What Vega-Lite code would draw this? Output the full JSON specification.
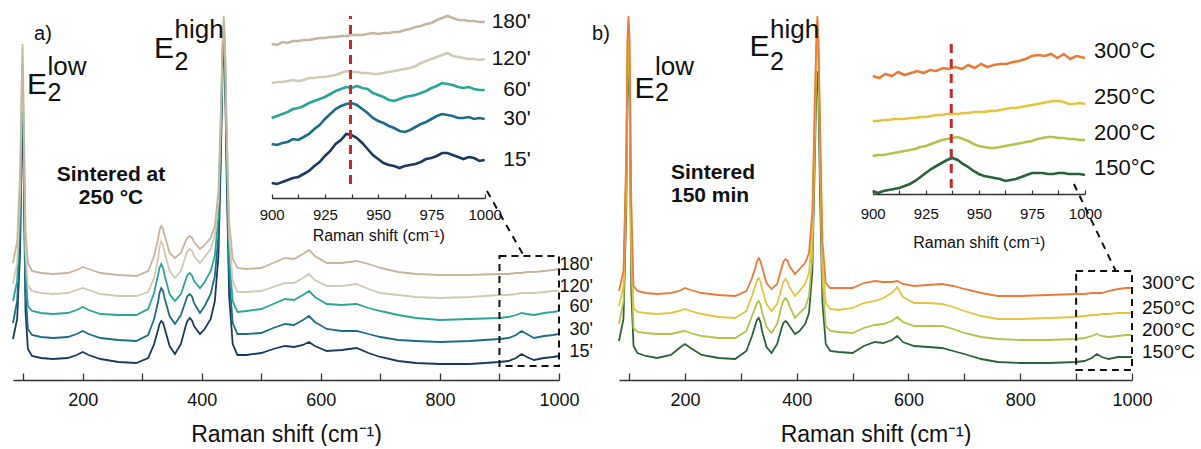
{
"$schema": "https://vega.github.io/schema/vega-lite/v6.json",
"padding": {"left": 9, "top": 10, "right": 0, "bottom": 0},
"bounds": "flush",
"spacing": 60,
"config": {"view": {"stroke": null}, "font": "Liberation Sans", "axis": {"grid": false, "labelFont": "Liberation Sans", "titleFont": "Liberation Sans"}},
"resolve": {"scale": {"color": "independent"}},
"datasets": {
"a": [
{"s":"15'","x":83,"y":41},{"s":"15'","x":90,"y":61},{"s":"15'","x":95,"y":129},{"s":"15'","x":97,"y":209},{"s":"15'","x":99,"y":289},{"s":"15'","x":101,"y":204},{"s":"15'","x":104,"y":69},{"s":"15'","x":108,"y":31},{"s":"15'","x":115,"y":24},{"s":"15'","x":130,"y":22},{"s":"15'","x":150,"y":21},{"s":"15'","x":175,"y":22},{"s":"15'","x":190,"y":25},{"s":"15'","x":200,"y":28},{"s":"15'","x":210,"y":25},{"s":"15'","x":230,"y":21},{"s":"15'","x":260,"y":18},{"s":"15'","x":290,"y":17},{"s":"15'","x":310,"y":22},{"s":"15'","x":320,"y":36},{"s":"15'","x":327,"y":51},{"s":"15'","x":332,"y":59},{"s":"15'","x":338,"y":51},{"s":"15'","x":346,"y":34},{"s":"15'","x":355,"y":26},{"s":"15'","x":365,"y":36},{"s":"15'","x":373,"y":54},{"s":"15'","x":380,"y":62},{"s":"15'","x":387,"y":54},{"s":"15'","x":397,"y":46},{"s":"15'","x":405,"y":51},{"s":"15'","x":415,"y":61},{"s":"15'","x":422,"y":79},{"s":"15'","x":428,"y":124},{"s":"15'","x":432,"y":219},{"s":"15'","x":435,"y":309},{"s":"15'","x":437,"y":344},{"s":"15'","x":439,"y":309},{"s":"15'","x":442,"y":199},{"s":"15'","x":446,"y":84},{"s":"15'","x":452,"y":36},{"s":"15'","x":460,"y":25},{"s":"15'","x":475,"y":25},{"s":"15'","x":500,"y":27},{"s":"15'","x":520,"y":31},{"s":"15'","x":540,"y":34},{"s":"15'","x":555,"y":33},{"s":"15'","x":570,"y":35},{"s":"15'","x":580,"y":38},{"s":"15'","x":590,"y":34},{"s":"15'","x":610,"y":29},{"s":"15'","x":635,"y":30},{"s":"15'","x":660,"y":32},{"s":"15'","x":680,"y":27},{"s":"15'","x":700,"y":23},{"s":"15'","x":730,"y":19},{"s":"15'","x":760,"y":17},{"s":"15'","x":800,"y":16},{"s":"15'","x":850,"y":16},{"s":"15'","x":900,"y":18},{"s":"15'","x":915,"y":19},{"s":"15'","x":928,"y":22},{"s":"15'","x":937,"y":26},{"s":"15'","x":946,"y":23},{"s":"15'","x":958,"y":20},{"s":"15'","x":975,"y":22},{"s":"15'","x":990,"y":23},{"s":"15'","x":1000,"y":24},{"s":"15'","x":329,"y":56},{"s":"15'","x":335,"y":57},{"s":"15'","x":376,"y":59},{"s":"15'","x":384,"y":59},
{"s":"30'","x":83,"y":57},{"s":"30'","x":90,"y":79},{"s":"30'","x":95,"y":149},{"s":"30'","x":97,"y":229},{"s":"30'","x":99,"y":304},{"s":"30'","x":101,"y":219},{"s":"30'","x":104,"y":89},{"s":"30'","x":108,"y":51},{"s":"30'","x":115,"y":45},{"s":"30'","x":130,"y":43},{"s":"30'","x":150,"y":42},{"s":"30'","x":175,"y":43},{"s":"30'","x":190,"y":46},{"s":"30'","x":200,"y":49},{"s":"30'","x":210,"y":46},{"s":"30'","x":230,"y":42},{"s":"30'","x":260,"y":40},{"s":"30'","x":290,"y":39},{"s":"30'","x":310,"y":45},{"s":"30'","x":320,"y":61},{"s":"30'","x":327,"y":79},{"s":"30'","x":332,"y":92},{"s":"30'","x":338,"y":81},{"s":"30'","x":346,"y":64},{"s":"30'","x":355,"y":56},{"s":"30'","x":365,"y":65},{"s":"30'","x":373,"y":79},{"s":"30'","x":380,"y":86},{"s":"30'","x":387,"y":77},{"s":"30'","x":397,"y":67},{"s":"30'","x":405,"y":74},{"s":"30'","x":415,"y":86},{"s":"30'","x":422,"y":104},{"s":"30'","x":428,"y":144},{"s":"30'","x":432,"y":234},{"s":"30'","x":435,"y":319},{"s":"30'","x":437,"y":349},{"s":"30'","x":439,"y":319},{"s":"30'","x":442,"y":214},{"s":"30'","x":446,"y":104},{"s":"30'","x":452,"y":57},{"s":"30'","x":460,"y":46},{"s":"30'","x":475,"y":46},{"s":"30'","x":500,"y":47},{"s":"30'","x":520,"y":52},{"s":"30'","x":540,"y":56},{"s":"30'","x":555,"y":55},{"s":"30'","x":570,"y":60},{"s":"30'","x":580,"y":64},{"s":"30'","x":590,"y":58},{"s":"30'","x":610,"y":51},{"s":"30'","x":635,"y":49},{"s":"30'","x":660,"y":49},{"s":"30'","x":680,"y":46},{"s":"30'","x":700,"y":43},{"s":"30'","x":730,"y":40},{"s":"30'","x":760,"y":39},{"s":"30'","x":800,"y":38},{"s":"30'","x":850,"y":39},{"s":"30'","x":900,"y":41},{"s":"30'","x":915,"y":42},{"s":"30'","x":928,"y":45},{"s":"30'","x":937,"y":49},{"s":"30'","x":946,"y":46},{"s":"30'","x":958,"y":42},{"s":"30'","x":975,"y":44},{"s":"30'","x":990,"y":45},{"s":"30'","x":1000,"y":46},{"s":"30'","x":329,"y":87},{"s":"30'","x":335,"y":89},{"s":"30'","x":376,"y":84},{"s":"30'","x":384,"y":83},
{"s":"60'","x":83,"y":79},{"s":"60'","x":90,"y":99},{"s":"60'","x":95,"y":169},{"s":"60'","x":97,"y":249},{"s":"60'","x":99,"y":314},{"s":"60'","x":101,"y":239},{"s":"60'","x":104,"y":109},{"s":"60'","x":108,"y":74},{"s":"60'","x":115,"y":69},{"s":"60'","x":130,"y":67},{"s":"60'","x":150,"y":66},{"s":"60'","x":175,"y":67},{"s":"60'","x":190,"y":70},{"s":"60'","x":200,"y":73},{"s":"60'","x":210,"y":70},{"s":"60'","x":230,"y":66},{"s":"60'","x":260,"y":65},{"s":"60'","x":290,"y":65},{"s":"60'","x":310,"y":71},{"s":"60'","x":320,"y":87},{"s":"60'","x":327,"y":106},{"s":"60'","x":332,"y":116},{"s":"60'","x":338,"y":104},{"s":"60'","x":346,"y":86},{"s":"60'","x":355,"y":79},{"s":"60'","x":365,"y":86},{"s":"60'","x":373,"y":100},{"s":"60'","x":380,"y":107},{"s":"60'","x":387,"y":99},{"s":"60'","x":397,"y":92},{"s":"60'","x":405,"y":98},{"s":"60'","x":415,"y":109},{"s":"60'","x":422,"y":124},{"s":"60'","x":428,"y":164},{"s":"60'","x":432,"y":249},{"s":"60'","x":435,"y":329},{"s":"60'","x":437,"y":354},{"s":"60'","x":439,"y":329},{"s":"60'","x":442,"y":229},{"s":"60'","x":446,"y":124},{"s":"60'","x":452,"y":79},{"s":"60'","x":460,"y":68},{"s":"60'","x":475,"y":69},{"s":"60'","x":500,"y":71},{"s":"60'","x":520,"y":76},{"s":"60'","x":540,"y":81},{"s":"60'","x":555,"y":80},{"s":"60'","x":570,"y":85},{"s":"60'","x":580,"y":89},{"s":"60'","x":590,"y":83},{"s":"60'","x":610,"y":76},{"s":"60'","x":635,"y":75},{"s":"60'","x":660,"y":76},{"s":"60'","x":680,"y":72},{"s":"60'","x":700,"y":69},{"s":"60'","x":730,"y":65},{"s":"60'","x":760,"y":62},{"s":"60'","x":800,"y":60},{"s":"60'","x":850,"y":61},{"s":"60'","x":900,"y":62},{"s":"60'","x":915,"y":63},{"s":"60'","x":928,"y":65},{"s":"60'","x":937,"y":67},{"s":"60'","x":946,"y":66},{"s":"60'","x":958,"y":65},{"s":"60'","x":975,"y":67},{"s":"60'","x":990,"y":68},{"s":"60'","x":1000,"y":69},{"s":"60'","x":329,"y":112},{"s":"60'","x":335,"y":112},{"s":"60'","x":376,"y":105},{"s":"60'","x":384,"y":104},
{"s":"120'","x":83,"y":96},{"s":"120'","x":90,"y":117},{"s":"120'","x":95,"y":189},{"s":"120'","x":97,"y":264},{"s":"120'","x":99,"y":324},{"s":"120'","x":101,"y":254},{"s":"120'","x":104,"y":129},{"s":"120'","x":108,"y":95},{"s":"120'","x":115,"y":89},{"s":"120'","x":130,"y":87},{"s":"120'","x":150,"y":86},{"s":"120'","x":175,"y":87},{"s":"120'","x":190,"y":90},{"s":"120'","x":200,"y":92},{"s":"120'","x":210,"y":90},{"s":"120'","x":230,"y":86},{"s":"120'","x":260,"y":84},{"s":"120'","x":290,"y":84},{"s":"120'","x":310,"y":88},{"s":"120'","x":320,"y":102},{"s":"120'","x":327,"y":122},{"s":"120'","x":332,"y":139},{"s":"120'","x":338,"y":127},{"s":"120'","x":346,"y":109},{"s":"120'","x":355,"y":102},{"s":"120'","x":365,"y":109},{"s":"120'","x":373,"y":124},{"s":"120'","x":380,"y":131},{"s":"120'","x":387,"y":124},{"s":"120'","x":397,"y":117},{"s":"120'","x":405,"y":123},{"s":"120'","x":415,"y":131},{"s":"120'","x":422,"y":144},{"s":"120'","x":428,"y":179},{"s":"120'","x":432,"y":259},{"s":"120'","x":435,"y":334},{"s":"120'","x":437,"y":359},{"s":"120'","x":439,"y":334},{"s":"120'","x":442,"y":239},{"s":"120'","x":446,"y":144},{"s":"120'","x":452,"y":99},{"s":"120'","x":460,"y":88},{"s":"120'","x":475,"y":88},{"s":"120'","x":500,"y":89},{"s":"120'","x":520,"y":93},{"s":"120'","x":540,"y":97},{"s":"120'","x":555,"y":97},{"s":"120'","x":570,"y":102},{"s":"120'","x":580,"y":106},{"s":"120'","x":590,"y":100},{"s":"120'","x":610,"y":94},{"s":"120'","x":635,"y":94},{"s":"120'","x":660,"y":96},{"s":"120'","x":680,"y":91},{"s":"120'","x":700,"y":87},{"s":"120'","x":730,"y":85},{"s":"120'","x":760,"y":83},{"s":"120'","x":800,"y":82},{"s":"120'","x":850,"y":83},{"s":"120'","x":900,"y":85},{"s":"120'","x":915,"y":85},{"s":"120'","x":928,"y":86},{"s":"120'","x":937,"y":87},{"s":"120'","x":946,"y":87},{"s":"120'","x":958,"y":87},{"s":"120'","x":975,"y":88},{"s":"120'","x":990,"y":89},{"s":"120'","x":1000,"y":89},{"s":"120'","x":329,"y":133},{"s":"120'","x":335,"y":135},{"s":"120'","x":376,"y":129},{"s":"120'","x":384,"y":129},
{"s":"180'","x":83,"y":117},{"s":"180'","x":90,"y":139},{"s":"180'","x":95,"y":209},{"s":"180'","x":97,"y":279},{"s":"180'","x":99,"y":336},{"s":"180'","x":101,"y":269},{"s":"180'","x":104,"y":149},{"s":"180'","x":108,"y":117},{"s":"180'","x":115,"y":109},{"s":"180'","x":130,"y":107},{"s":"180'","x":150,"y":106},{"s":"180'","x":175,"y":107},{"s":"180'","x":190,"y":110},{"s":"180'","x":200,"y":113},{"s":"180'","x":210,"y":111},{"s":"180'","x":230,"y":107},{"s":"180'","x":260,"y":105},{"s":"180'","x":290,"y":104},{"s":"180'","x":310,"y":109},{"s":"180'","x":320,"y":124},{"s":"180'","x":327,"y":142},{"s":"180'","x":332,"y":154},{"s":"180'","x":338,"y":144},{"s":"180'","x":346,"y":127},{"s":"180'","x":355,"y":122},{"s":"180'","x":365,"y":127},{"s":"180'","x":373,"y":139},{"s":"180'","x":380,"y":144},{"s":"180'","x":387,"y":138},{"s":"180'","x":397,"y":131},{"s":"180'","x":405,"y":135},{"s":"180'","x":415,"y":142},{"s":"180'","x":422,"y":154},{"s":"180'","x":428,"y":189},{"s":"180'","x":432,"y":269},{"s":"180'","x":435,"y":339},{"s":"180'","x":437,"y":364},{"s":"180'","x":439,"y":339},{"s":"180'","x":442,"y":249},{"s":"180'","x":446,"y":159},{"s":"180'","x":452,"y":121},{"s":"180'","x":460,"y":112},{"s":"180'","x":475,"y":111},{"s":"180'","x":500,"y":112},{"s":"180'","x":520,"y":117},{"s":"180'","x":540,"y":122},{"s":"180'","x":555,"y":121},{"s":"180'","x":570,"y":126},{"s":"180'","x":580,"y":130},{"s":"180'","x":590,"y":124},{"s":"180'","x":610,"y":117},{"s":"180'","x":635,"y":117},{"s":"180'","x":660,"y":119},{"s":"180'","x":680,"y":116},{"s":"180'","x":700,"y":112},{"s":"180'","x":730,"y":108},{"s":"180'","x":760,"y":106},{"s":"180'","x":800,"y":105},{"s":"180'","x":850,"y":105},{"s":"180'","x":900,"y":106},{"s":"180'","x":915,"y":106},{"s":"180'","x":928,"y":107},{"s":"180'","x":937,"y":107},{"s":"180'","x":946,"y":108},{"s":"180'","x":958,"y":108},{"s":"180'","x":975,"y":109},{"s":"180'","x":990,"y":110},{"s":"180'","x":1000,"y":111},{"s":"180'","x":329,"y":150},{"s":"180'","x":335,"y":151},{"s":"180'","x":376,"y":142},{"s":"180'","x":384,"y":142}
],
"b": [
{"s":"150°C","x":82,"y":39},{"s":"150°C","x":90,"y":61},{"s":"150°C","x":95,"y":169},{"s":"150°C","x":97,"y":279},{"s":"150°C","x":99,"y":349},{"s":"150°C","x":101,"y":279},{"s":"150°C","x":104,"y":89},{"s":"150°C","x":108,"y":34},{"s":"150°C","x":115,"y":27},{"s":"150°C","x":130,"y":24},{"s":"150°C","x":150,"y":22},{"s":"150°C","x":175,"y":25},{"s":"150°C","x":190,"y":32},{"s":"150°C","x":200,"y":36},{"s":"150°C","x":210,"y":32},{"s":"150°C","x":230,"y":25},{"s":"150°C","x":260,"y":22},{"s":"150°C","x":290,"y":21},{"s":"150°C","x":310,"y":29},{"s":"150°C","x":320,"y":44},{"s":"150°C","x":327,"y":57},{"s":"150°C","x":332,"y":62},{"s":"150°C","x":338,"y":49},{"s":"150°C","x":346,"y":33},{"s":"150°C","x":355,"y":27},{"s":"150°C","x":365,"y":36},{"s":"150°C","x":373,"y":52},{"s":"150°C","x":380,"y":59},{"s":"150°C","x":387,"y":54},{"s":"150°C","x":397,"y":46},{"s":"150°C","x":405,"y":49},{"s":"150°C","x":415,"y":56},{"s":"150°C","x":422,"y":67},{"s":"150°C","x":428,"y":109},{"s":"150°C","x":432,"y":209},{"s":"150°C","x":435,"y":289},{"s":"150°C","x":437,"y":309},{"s":"150°C","x":439,"y":279},{"s":"150°C","x":442,"y":179},{"s":"150°C","x":446,"y":79},{"s":"150°C","x":452,"y":36},{"s":"150°C","x":460,"y":29},{"s":"150°C","x":475,"y":28},{"s":"150°C","x":500,"y":27},{"s":"150°C","x":520,"y":34},{"s":"150°C","x":540,"y":38},{"s":"150°C","x":555,"y":37},{"s":"150°C","x":570,"y":40},{"s":"150°C","x":580,"y":44},{"s":"150°C","x":590,"y":38},{"s":"150°C","x":610,"y":34},{"s":"150°C","x":635,"y":33},{"s":"150°C","x":660,"y":32},{"s":"150°C","x":680,"y":29},{"s":"150°C","x":700,"y":26},{"s":"150°C","x":730,"y":21},{"s":"150°C","x":760,"y":18},{"s":"150°C","x":800,"y":17},{"s":"150°C","x":850,"y":17},{"s":"150°C","x":900,"y":18},{"s":"150°C","x":915,"y":19},{"s":"150°C","x":928,"y":22},{"s":"150°C","x":937,"y":26},{"s":"150°C","x":946,"y":23},{"s":"150°C","x":958,"y":21},{"s":"150°C","x":975,"y":23},{"s":"150°C","x":990,"y":23},{"s":"150°C","x":1000,"y":23},{"s":"150°C","x":329,"y":60},{"s":"150°C","x":335,"y":58},{"s":"150°C","x":376,"y":57},{"s":"150°C","x":384,"y":57},
{"s":"200°C","x":82,"y":56},{"s":"200°C","x":90,"y":79},{"s":"200°C","x":95,"y":189},{"s":"200°C","x":97,"y":299},{"s":"200°C","x":99,"y":354},{"s":"200°C","x":101,"y":299},{"s":"200°C","x":104,"y":119},{"s":"200°C","x":108,"y":52},{"s":"200°C","x":115,"y":48},{"s":"200°C","x":130,"y":47},{"s":"200°C","x":150,"y":46},{"s":"200°C","x":175,"y":46},{"s":"200°C","x":190,"y":48},{"s":"200°C","x":200,"y":49},{"s":"200°C","x":210,"y":47},{"s":"200°C","x":230,"y":44},{"s":"200°C","x":260,"y":42},{"s":"200°C","x":290,"y":42},{"s":"200°C","x":310,"y":49},{"s":"200°C","x":320,"y":64},{"s":"200°C","x":327,"y":74},{"s":"200°C","x":332,"y":79},{"s":"200°C","x":338,"y":68},{"s":"200°C","x":346,"y":53},{"s":"200°C","x":355,"y":47},{"s":"200°C","x":365,"y":56},{"s":"200°C","x":373,"y":74},{"s":"200°C","x":380,"y":82},{"s":"200°C","x":387,"y":74},{"s":"200°C","x":397,"y":62},{"s":"200°C","x":405,"y":67},{"s":"200°C","x":415,"y":72},{"s":"200°C","x":422,"y":84},{"s":"200°C","x":428,"y":124},{"s":"200°C","x":432,"y":229},{"s":"200°C","x":435,"y":319},{"s":"200°C","x":437,"y":354},{"s":"200°C","x":439,"y":319},{"s":"200°C","x":442,"y":209},{"s":"200°C","x":446,"y":99},{"s":"200°C","x":452,"y":54},{"s":"200°C","x":460,"y":49},{"s":"200°C","x":475,"y":48},{"s":"200°C","x":500,"y":47},{"s":"200°C","x":520,"y":52},{"s":"200°C","x":540,"y":55},{"s":"200°C","x":555,"y":56},{"s":"200°C","x":570,"y":59},{"s":"200°C","x":580,"y":63},{"s":"200°C","x":590,"y":58},{"s":"200°C","x":610,"y":54},{"s":"200°C","x":635,"y":54},{"s":"200°C","x":660,"y":54},{"s":"200°C","x":680,"y":51},{"s":"200°C","x":700,"y":47},{"s":"200°C","x":730,"y":43},{"s":"200°C","x":760,"y":41},{"s":"200°C","x":800,"y":40},{"s":"200°C","x":850,"y":40},{"s":"200°C","x":900,"y":41},{"s":"200°C","x":915,"y":42},{"s":"200°C","x":928,"y":44},{"s":"200°C","x":937,"y":46},{"s":"200°C","x":946,"y":44},{"s":"200°C","x":958,"y":43},{"s":"200°C","x":975,"y":44},{"s":"200°C","x":990,"y":45},{"s":"200°C","x":1000,"y":45},{"s":"200°C","x":329,"y":77},{"s":"200°C","x":335,"y":76},{"s":"200°C","x":376,"y":79},{"s":"200°C","x":384,"y":79},
{"s":"250°C","x":82,"y":74},{"s":"250°C","x":90,"y":94},{"s":"250°C","x":95,"y":209},{"s":"250°C","x":97,"y":319},{"s":"250°C","x":99,"y":359},{"s":"250°C","x":101,"y":319},{"s":"250°C","x":104,"y":149},{"s":"250°C","x":108,"y":72},{"s":"250°C","x":115,"y":68},{"s":"250°C","x":130,"y":67},{"s":"250°C","x":150,"y":66},{"s":"250°C","x":175,"y":67},{"s":"250°C","x":190,"y":69},{"s":"250°C","x":200,"y":71},{"s":"250°C","x":210,"y":69},{"s":"250°C","x":230,"y":66},{"s":"250°C","x":260,"y":63},{"s":"250°C","x":290,"y":62},{"s":"250°C","x":310,"y":69},{"s":"250°C","x":320,"y":84},{"s":"250°C","x":327,"y":96},{"s":"250°C","x":332,"y":102},{"s":"250°C","x":338,"y":91},{"s":"250°C","x":346,"y":76},{"s":"250°C","x":355,"y":69},{"s":"250°C","x":365,"y":76},{"s":"250°C","x":373,"y":92},{"s":"250°C","x":380,"y":101},{"s":"250°C","x":387,"y":93},{"s":"250°C","x":397,"y":84},{"s":"250°C","x":405,"y":89},{"s":"250°C","x":415,"y":96},{"s":"250°C","x":422,"y":107},{"s":"250°C","x":428,"y":149},{"s":"250°C","x":432,"y":249},{"s":"250°C","x":435,"y":329},{"s":"250°C","x":437,"y":359},{"s":"250°C","x":439,"y":329},{"s":"250°C","x":442,"y":229},{"s":"250°C","x":446,"y":119},{"s":"250°C","x":452,"y":77},{"s":"250°C","x":460,"y":71},{"s":"250°C","x":475,"y":70},{"s":"250°C","x":500,"y":72},{"s":"250°C","x":520,"y":77},{"s":"250°C","x":540,"y":79},{"s":"250°C","x":555,"y":82},{"s":"250°C","x":570,"y":87},{"s":"250°C","x":580,"y":93},{"s":"250°C","x":590,"y":83},{"s":"250°C","x":610,"y":77},{"s":"250°C","x":635,"y":77},{"s":"250°C","x":660,"y":76},{"s":"250°C","x":680,"y":73},{"s":"250°C","x":700,"y":69},{"s":"250°C","x":730,"y":64},{"s":"250°C","x":760,"y":61},{"s":"250°C","x":800,"y":61},{"s":"250°C","x":850,"y":62},{"s":"250°C","x":900,"y":63},{"s":"250°C","x":915,"y":64},{"s":"250°C","x":928,"y":65},{"s":"250°C","x":937,"y":65},{"s":"250°C","x":946,"y":66},{"s":"250°C","x":958,"y":66},{"s":"250°C","x":975,"y":67},{"s":"250°C","x":990,"y":67},{"s":"250°C","x":1000,"y":67},{"s":"250°C","x":329,"y":100},{"s":"250°C","x":335,"y":99},{"s":"250°C","x":376,"y":98},{"s":"250°C","x":384,"y":98},
{"s":"300°C","x":82,"y":89},{"s":"300°C","x":90,"y":109},{"s":"300°C","x":95,"y":229},{"s":"300°C","x":97,"y":339},{"s":"300°C","x":99,"y":364},{"s":"300°C","x":101,"y":339},{"s":"300°C","x":104,"y":179},{"s":"300°C","x":108,"y":94},{"s":"300°C","x":115,"y":89},{"s":"300°C","x":130,"y":87},{"s":"300°C","x":150,"y":86},{"s":"300°C","x":175,"y":87},{"s":"300°C","x":190,"y":89},{"s":"300°C","x":200,"y":92},{"s":"300°C","x":210,"y":90},{"s":"300°C","x":230,"y":87},{"s":"300°C","x":260,"y":85},{"s":"300°C","x":290,"y":84},{"s":"300°C","x":310,"y":89},{"s":"300°C","x":320,"y":102},{"s":"300°C","x":327,"y":114},{"s":"300°C","x":332,"y":122},{"s":"300°C","x":338,"y":113},{"s":"300°C","x":346,"y":97},{"s":"300°C","x":355,"y":91},{"s":"300°C","x":365,"y":96},{"s":"300°C","x":373,"y":112},{"s":"300°C","x":380,"y":121},{"s":"300°C","x":387,"y":114},{"s":"300°C","x":397,"y":106},{"s":"300°C","x":405,"y":111},{"s":"300°C","x":415,"y":117},{"s":"300°C","x":422,"y":127},{"s":"300°C","x":428,"y":169},{"s":"300°C","x":432,"y":269},{"s":"300°C","x":435,"y":339},{"s":"300°C","x":437,"y":364},{"s":"300°C","x":439,"y":339},{"s":"300°C","x":442,"y":249},{"s":"300°C","x":446,"y":139},{"s":"300°C","x":452,"y":97},{"s":"300°C","x":460,"y":92},{"s":"300°C","x":475,"y":92},{"s":"300°C","x":500,"y":92},{"s":"300°C","x":520,"y":97},{"s":"300°C","x":540,"y":99},{"s":"300°C","x":555,"y":98},{"s":"300°C","x":570,"y":98},{"s":"300°C","x":580,"y":99},{"s":"300°C","x":590,"y":96},{"s":"300°C","x":610,"y":94},{"s":"300°C","x":635,"y":95},{"s":"300°C","x":660,"y":96},{"s":"300°C","x":680,"y":94},{"s":"300°C","x":700,"y":91},{"s":"300°C","x":730,"y":87},{"s":"300°C","x":760,"y":84},{"s":"300°C","x":800,"y":84},{"s":"300°C","x":850,"y":85},{"s":"300°C","x":900,"y":86},{"s":"300°C","x":915,"y":86},{"s":"300°C","x":928,"y":87},{"s":"300°C","x":937,"y":87},{"s":"300°C","x":946,"y":87},{"s":"300°C","x":958,"y":89},{"s":"300°C","x":975,"y":91},{"s":"300°C","x":990,"y":92},{"s":"300°C","x":1000,"y":92},{"s":"300°C","x":329,"y":119},{"s":"300°C","x":335,"y":119},{"s":"300°C","x":376,"y":118},{"s":"300°C","x":384,"y":119}
],
"ai": [
{"s":"15'","x":900,"y":15},{"s":"15'","x":902.5,"y":14},{"s":"15'","x":905,"y":16},{"s":"15'","x":907.5,"y":18},{"s":"15'","x":910,"y":20},{"s":"15'","x":912.5,"y":21},{"s":"15'","x":915,"y":24},{"s":"15'","x":917.5,"y":27},{"s":"15'","x":920,"y":32},{"s":"15'","x":922.5,"y":36},{"s":"15'","x":925,"y":42},{"s":"15'","x":927.5,"y":47},{"s":"15'","x":930,"y":54},{"s":"15'","x":932.5,"y":58},{"s":"15'","x":935,"y":64},{"s":"15'","x":937.5,"y":63},{"s":"15'","x":940,"y":60},{"s":"15'","x":942.5,"y":55},{"s":"15'","x":945,"y":49},{"s":"15'","x":947.5,"y":43},{"s":"15'","x":950,"y":39},{"s":"15'","x":952.5,"y":35},{"s":"15'","x":955,"y":33},{"s":"15'","x":957.5,"y":32},{"s":"15'","x":960,"y":30},{"s":"15'","x":962.5,"y":32},{"s":"15'","x":965,"y":33},{"s":"15'","x":967.5,"y":34},{"s":"15'","x":970,"y":36},{"s":"15'","x":972.5,"y":39},{"s":"15'","x":975,"y":40},{"s":"15'","x":977.5,"y":42},{"s":"15'","x":980,"y":45},{"s":"15'","x":982.5,"y":45},{"s":"15'","x":985,"y":43},{"s":"15'","x":987.5,"y":41},{"s":"15'","x":990,"y":39},{"s":"15'","x":992.5,"y":41},{"s":"15'","x":995,"y":40},{"s":"15'","x":997.5,"y":37},{"s":"15'","x":1000,"y":38},
{"s":"30'","x":900,"y":54},{"s":"30'","x":902.5,"y":53},{"s":"30'","x":905,"y":55},{"s":"30'","x":907.5,"y":56},{"s":"30'","x":910,"y":59},{"s":"30'","x":912.5,"y":58},{"s":"30'","x":915,"y":61},{"s":"30'","x":917.5,"y":64},{"s":"30'","x":920,"y":69},{"s":"30'","x":922.5,"y":73},{"s":"30'","x":925,"y":79},{"s":"30'","x":927.5,"y":84},{"s":"30'","x":930,"y":89},{"s":"30'","x":932.5,"y":92},{"s":"30'","x":935,"y":94},{"s":"30'","x":937.5,"y":95},{"s":"30'","x":940,"y":93},{"s":"30'","x":942.5,"y":89},{"s":"30'","x":945,"y":85},{"s":"30'","x":947.5,"y":80},{"s":"30'","x":950,"y":77},{"s":"30'","x":952.5,"y":75},{"s":"30'","x":955,"y":72},{"s":"30'","x":957.5,"y":70},{"s":"30'","x":960,"y":67},{"s":"30'","x":962.5,"y":66},{"s":"30'","x":965,"y":68},{"s":"30'","x":967.5,"y":71},{"s":"30'","x":970,"y":74},{"s":"30'","x":972.5,"y":76},{"s":"30'","x":975,"y":79},{"s":"30'","x":977.5,"y":82},{"s":"30'","x":980,"y":84},{"s":"30'","x":982.5,"y":83},{"s":"30'","x":985,"y":82},{"s":"30'","x":987.5,"y":80},{"s":"30'","x":990,"y":80},{"s":"30'","x":992.5,"y":81},{"s":"30'","x":995,"y":79},{"s":"30'","x":997.5,"y":80},{"s":"30'","x":1000,"y":79},
{"s":"60'","x":900,"y":80},{"s":"60'","x":902.5,"y":82},{"s":"60'","x":905,"y":84},{"s":"60'","x":907.5,"y":86},{"s":"60'","x":910,"y":89},{"s":"60'","x":912.5,"y":90},{"s":"60'","x":915,"y":92},{"s":"60'","x":917.5,"y":95},{"s":"60'","x":920,"y":97},{"s":"60'","x":922.5,"y":99},{"s":"60'","x":925,"y":101},{"s":"60'","x":927.5,"y":104},{"s":"60'","x":930,"y":107},{"s":"60'","x":932.5,"y":109},{"s":"60'","x":935,"y":111},{"s":"60'","x":937.5,"y":110},{"s":"60'","x":940,"y":112},{"s":"60'","x":942.5,"y":110},{"s":"60'","x":945,"y":109},{"s":"60'","x":947.5,"y":105},{"s":"60'","x":950,"y":103},{"s":"60'","x":952.5,"y":101},{"s":"60'","x":955,"y":98},{"s":"60'","x":957.5,"y":97},{"s":"60'","x":960,"y":99},{"s":"60'","x":962.5,"y":101},{"s":"60'","x":965,"y":102},{"s":"60'","x":967.5,"y":103},{"s":"60'","x":970,"y":105},{"s":"60'","x":972.5,"y":107},{"s":"60'","x":975,"y":110},{"s":"60'","x":977.5,"y":112},{"s":"60'","x":980,"y":115},{"s":"60'","x":982.5,"y":114},{"s":"60'","x":985,"y":113},{"s":"60'","x":987.5,"y":111},{"s":"60'","x":990,"y":110},{"s":"60'","x":992.5,"y":111},{"s":"60'","x":995,"y":109},{"s":"60'","x":997.5,"y":108},{"s":"60'","x":1000,"y":108},
{"s":"120'","x":900,"y":115},{"s":"120'","x":902.5,"y":116},{"s":"120'","x":905,"y":116},{"s":"120'","x":907.5,"y":117},{"s":"120'","x":910,"y":118},{"s":"120'","x":912.5,"y":117},{"s":"120'","x":915,"y":118},{"s":"120'","x":917.5,"y":120},{"s":"120'","x":920,"y":120},{"s":"120'","x":922.5,"y":121},{"s":"120'","x":925,"y":121},{"s":"120'","x":927.5,"y":122},{"s":"120'","x":930,"y":123},{"s":"120'","x":932.5,"y":125},{"s":"120'","x":935,"y":127},{"s":"120'","x":937.5,"y":126},{"s":"120'","x":940,"y":126},{"s":"120'","x":942.5,"y":125},{"s":"120'","x":945,"y":125},{"s":"120'","x":947.5,"y":124},{"s":"120'","x":950,"y":124},{"s":"120'","x":952.5,"y":125},{"s":"120'","x":955,"y":126},{"s":"120'","x":957.5,"y":127},{"s":"120'","x":960,"y":128},{"s":"120'","x":962.5,"y":129},{"s":"120'","x":965,"y":130},{"s":"120'","x":967.5,"y":132},{"s":"120'","x":970,"y":135},{"s":"120'","x":972.5,"y":137},{"s":"120'","x":975,"y":139},{"s":"120'","x":977.5,"y":141},{"s":"120'","x":980,"y":143},{"s":"120'","x":982.5,"y":145},{"s":"120'","x":985,"y":142},{"s":"120'","x":987.5,"y":141},{"s":"120'","x":990,"y":140},{"s":"120'","x":992.5,"y":139},{"s":"120'","x":995,"y":139},{"s":"120'","x":997.5,"y":138},{"s":"120'","x":1000,"y":139},
{"s":"180'","x":900,"y":154},{"s":"180'","x":902.5,"y":153},{"s":"180'","x":905,"y":156},{"s":"180'","x":907.5,"y":155},{"s":"180'","x":910,"y":157},{"s":"180'","x":912.5,"y":157},{"s":"180'","x":915,"y":158},{"s":"180'","x":917.5,"y":158},{"s":"180'","x":920,"y":159},{"s":"180'","x":922.5,"y":160},{"s":"180'","x":925,"y":160},{"s":"180'","x":927.5,"y":161},{"s":"180'","x":930,"y":161},{"s":"180'","x":932.5,"y":162},{"s":"180'","x":935,"y":162},{"s":"180'","x":937.5,"y":163},{"s":"180'","x":940,"y":163},{"s":"180'","x":942.5,"y":163},{"s":"180'","x":945,"y":164},{"s":"180'","x":947.5,"y":165},{"s":"180'","x":950,"y":164},{"s":"180'","x":952.5,"y":165},{"s":"180'","x":955,"y":165},{"s":"180'","x":957.5,"y":166},{"s":"180'","x":960,"y":166},{"s":"180'","x":962.5,"y":168},{"s":"180'","x":965,"y":169},{"s":"180'","x":967.5,"y":171},{"s":"180'","x":970,"y":172},{"s":"180'","x":972.5,"y":174},{"s":"180'","x":975,"y":175},{"s":"180'","x":977.5,"y":178},{"s":"180'","x":980,"y":180},{"s":"180'","x":982.5,"y":182},{"s":"180'","x":985,"y":180},{"s":"180'","x":987.5,"y":178},{"s":"180'","x":990,"y":178},{"s":"180'","x":992.5,"y":177},{"s":"180'","x":995,"y":177},{"s":"180'","x":997.5,"y":176},{"s":"180'","x":1000,"y":176}
],
"bi": [
{"s":"150°C","x":900,"y":3},{"s":"150°C","x":902.5,"y":1},{"s":"150°C","x":905,"y":3},{"s":"150°C","x":907.5,"y":4},{"s":"150°C","x":910,"y":5},{"s":"150°C","x":912.5,"y":6},{"s":"150°C","x":915,"y":8},{"s":"150°C","x":917.5,"y":10},{"s":"150°C","x":920,"y":13},{"s":"150°C","x":922.5,"y":17},{"s":"150°C","x":925,"y":21},{"s":"150°C","x":927.5,"y":25},{"s":"150°C","x":930,"y":28},{"s":"150°C","x":932.5,"y":31},{"s":"150°C","x":935,"y":34},{"s":"150°C","x":937.5,"y":36},{"s":"150°C","x":940,"y":34},{"s":"150°C","x":942.5,"y":30},{"s":"150°C","x":945,"y":27},{"s":"150°C","x":947.5,"y":23},{"s":"150°C","x":950,"y":20},{"s":"150°C","x":952.5,"y":18},{"s":"150°C","x":955,"y":17},{"s":"150°C","x":957.5,"y":16},{"s":"150°C","x":960,"y":15},{"s":"150°C","x":962.5,"y":13},{"s":"150°C","x":965,"y":14},{"s":"150°C","x":967.5,"y":15},{"s":"150°C","x":970,"y":17},{"s":"150°C","x":972.5,"y":19},{"s":"150°C","x":975,"y":21},{"s":"150°C","x":977.5,"y":21},{"s":"150°C","x":980,"y":21},{"s":"150°C","x":982.5,"y":20},{"s":"150°C","x":985,"y":20},{"s":"150°C","x":987.5,"y":21},{"s":"150°C","x":990,"y":21},{"s":"150°C","x":992.5,"y":20},{"s":"150°C","x":995,"y":20},{"s":"150°C","x":997.5,"y":20},{"s":"150°C","x":1000,"y":19},
{"s":"200°C","x":900,"y":38},{"s":"200°C","x":902.5,"y":39},{"s":"200°C","x":905,"y":39},{"s":"200°C","x":907.5,"y":40},{"s":"200°C","x":910,"y":41},{"s":"200°C","x":912.5,"y":42},{"s":"200°C","x":915,"y":43},{"s":"200°C","x":917.5,"y":44},{"s":"200°C","x":920,"y":45},{"s":"200°C","x":922.5,"y":47},{"s":"200°C","x":925,"y":48},{"s":"200°C","x":927.5,"y":50},{"s":"200°C","x":930,"y":52},{"s":"200°C","x":932.5,"y":54},{"s":"200°C","x":935,"y":55},{"s":"200°C","x":937.5,"y":56},{"s":"200°C","x":940,"y":57},{"s":"200°C","x":942.5,"y":55},{"s":"200°C","x":945,"y":53},{"s":"200°C","x":947.5,"y":50},{"s":"200°C","x":950,"y":48},{"s":"200°C","x":952.5,"y":47},{"s":"200°C","x":955,"y":46},{"s":"200°C","x":957.5,"y":46},{"s":"200°C","x":960,"y":47},{"s":"200°C","x":962.5,"y":48},{"s":"200°C","x":965,"y":49},{"s":"200°C","x":967.5,"y":50},{"s":"200°C","x":970,"y":51},{"s":"200°C","x":972.5,"y":52},{"s":"200°C","x":975,"y":53},{"s":"200°C","x":977.5,"y":55},{"s":"200°C","x":980,"y":56},{"s":"200°C","x":982.5,"y":57},{"s":"200°C","x":985,"y":57},{"s":"200°C","x":987.5,"y":56},{"s":"200°C","x":990,"y":56},{"s":"200°C","x":992.5,"y":55},{"s":"200°C","x":995,"y":55},{"s":"200°C","x":997.5,"y":54},{"s":"200°C","x":1000,"y":54},
{"s":"250°C","x":900,"y":73},{"s":"250°C","x":902.5,"y":73},{"s":"250°C","x":905,"y":74},{"s":"250°C","x":907.5,"y":74},{"s":"250°C","x":910,"y":75},{"s":"250°C","x":912.5,"y":75},{"s":"250°C","x":915,"y":75},{"s":"250°C","x":917.5,"y":76},{"s":"250°C","x":920,"y":76},{"s":"250°C","x":922.5,"y":77},{"s":"250°C","x":925,"y":77},{"s":"250°C","x":927.5,"y":78},{"s":"250°C","x":930,"y":79},{"s":"250°C","x":932.5,"y":79},{"s":"250°C","x":935,"y":80},{"s":"250°C","x":937.5,"y":80},{"s":"250°C","x":940,"y":80},{"s":"250°C","x":942.5,"y":81},{"s":"250°C","x":945,"y":81},{"s":"250°C","x":947.5,"y":82},{"s":"250°C","x":950,"y":82},{"s":"250°C","x":952.5,"y":82},{"s":"250°C","x":955,"y":83},{"s":"250°C","x":957.5,"y":83},{"s":"250°C","x":960,"y":84},{"s":"250°C","x":962.5,"y":85},{"s":"250°C","x":965,"y":86},{"s":"250°C","x":967.5,"y":86},{"s":"250°C","x":970,"y":87},{"s":"250°C","x":972.5,"y":88},{"s":"250°C","x":975,"y":89},{"s":"250°C","x":977.5,"y":90},{"s":"250°C","x":980,"y":91},{"s":"250°C","x":982.5,"y":92},{"s":"250°C","x":985,"y":93},{"s":"250°C","x":987.5,"y":93},{"s":"250°C","x":990,"y":92},{"s":"250°C","x":992.5,"y":90},{"s":"250°C","x":995,"y":90},{"s":"250°C","x":997.5,"y":91},{"s":"250°C","x":1000,"y":90},
{"s":"300°C","x":900,"y":118},{"s":"300°C","x":903,"y":116},{"s":"300°C","x":906,"y":120},{"s":"300°C","x":909,"y":118},{"s":"300°C","x":912,"y":122},{"s":"300°C","x":915,"y":119},{"s":"300°C","x":918,"y":121},{"s":"300°C","x":921,"y":123},{"s":"300°C","x":924,"y":121},{"s":"300°C","x":927,"y":124},{"s":"300°C","x":930,"y":123},{"s":"300°C","x":933,"y":126},{"s":"300°C","x":936,"y":125},{"s":"300°C","x":939,"y":127},{"s":"300°C","x":942,"y":125},{"s":"300°C","x":945,"y":129},{"s":"300°C","x":948,"y":126},{"s":"300°C","x":951,"y":130},{"s":"300°C","x":954,"y":127},{"s":"300°C","x":957,"y":129},{"s":"300°C","x":960,"y":130},{"s":"300°C","x":963,"y":130},{"s":"300°C","x":966,"y":132},{"s":"300°C","x":969,"y":133},{"s":"300°C","x":972,"y":135},{"s":"300°C","x":975,"y":138},{"s":"300°C","x":978,"y":139},{"s":"300°C","x":981,"y":138},{"s":"300°C","x":984,"y":140},{"s":"300°C","x":987,"y":136},{"s":"300°C","x":990,"y":140},{"s":"300°C","x":993,"y":135},{"s":"300°C","x":996,"y":138},{"s":"300°C","x":1000,"y":136}
]
},
"hconcat": [
{
"width": 546, "height": 369,
"data": {"values": [{}]},
"resolve": {"scale": {"x": "independent", "y": "independent"}, "axis": {"x": "independent", "y": "independent"}},
"layer": [
{"layer": [
{"data": {"name": "a"}, "mark": {"type": "line", "strokeWidth": 1.8},
 "encoding": {
  "x": {"field": "x", "type": "quantitative", "scale": {"domain": [83, 1000]},
        "axis": {"title": "Raman shift (cm⁻¹)", "values": [100,200,300,400,500,600,700,800,900,1000], "format": "d", "labelExpr": "datum.value % 200 === 0 ? datum.label : ''", "tickSize": -7, "tickWidth": 1.3, "tickColor": "#333", "domainColor": "#333", "domainWidth": 1.5, "labelPadding": 18, "labelFontSize": 18, "labelColor": "#111", "labelFlush": false, "labelOverlap": false, "titleFontSize": 23, "titleFontWeight": "normal", "titleColor": "#111", "titlePadding": 14}},
  "y": {"field": "y", "type": "quantitative", "scale": {"domain": [0, 369]}, "axis": null},
  "color": {"field": "s", "type": "nominal", "scale": {"domain": ["15'","30'","60'","120'","180'"], "range": ["#1c3a5e","#1f6c87","#2aa597","#d3cab3","#c7b59e"]}, "legend": null}}},
{"data": {"name": "a"}, "transform": [{"aggregate": [{"op": "argmax", "field": "x", "as": "m"}], "groupby": ["s"]}],
 "mark": {"type": "text", "align": "right", "baseline": "middle", "dx": 34, "dy": -4, "fontSize": 18, "color": "#111"},
 "encoding": {"x": {"field": "m.x", "type": "quantitative", "scale": {"domain": [83, 1000]}}, "y": {"field": "m.y", "type": "quantitative", "scale": {"domain": [0, 369]}, "axis": null}, "text": {"field": "s"}}},
{"mark": {"type": "rect", "fillOpacity": 0, "stroke": "#111", "strokeWidth": 2, "strokeDash": [7, 5]},
 "encoding": {"x": {"datum": 900, "type": "quantitative", "scale": {"domain": [83, 1000]}}, "x2": {"datum": 1000}, "y": {"datum": 124, "type": "quantitative", "scale": {"domain": [0, 369]}, "axis": null}, "y2": {"datum": 14}}},
{"mark": {"type": "rule", "stroke": "#111", "strokeWidth": 2, "strokeDash": [7, 6]},
 "encoding": {"x": {"datum": 879, "type": "quantitative", "scale": {"domain": [83, 1000]}}, "x2": {"datum": 941}, "y": {"datum": 189, "type": "quantitative", "scale": {"domain": [0, 369]}, "axis": null}, "y2": {"datum": 124}}},
{"mark": {"type": "text", "align": "left", "baseline": "alphabetic", "fontSize": 20, "color": "#111"},
 "encoding": {"x": {"datum": 118.3, "type": "quantitative", "scale": {"domain": [83, 1000]}}, "y": {"datum": 340, "type": "quantitative", "scale": {"domain": [0, 369]}, "axis": null}, "text": {"value": "a)"}}},
{"mark": {"type": "text", "align": "left", "baseline": "alphabetic", "fontSize": 30, "color": "#111"},
 "encoding": {"x": {"datum": 106.5, "type": "quantitative", "scale": {"domain": [83, 1000]}}, "y": {"datum": 286, "type": "quantitative", "scale": {"domain": [0, 369]}, "axis": null}, "text": {"value": "E"}}},
{"mark": {"type": "text", "align": "left", "baseline": "alphabetic", "fontSize": 26, "color": "#111"},
 "encoding": {"x": {"datum": 141, "type": "quantitative", "scale": {"domain": [83, 1000]}}, "y": {"datum": 305, "type": "quantitative", "scale": {"domain": [0, 369]}, "axis": null}, "text": {"value": "low"}}},
{"mark": {"type": "text", "align": "left", "baseline": "alphabetic", "fontSize": 25, "color": "#111"},
 "encoding": {"x": {"datum": 141, "type": "quantitative", "scale": {"domain": [83, 1000]}}, "y": {"datum": 279, "type": "quantitative", "scale": {"domain": [0, 369]}, "axis": null}, "text": {"value": "2"}}},
{"mark": {"type": "text", "align": "left", "baseline": "alphabetic", "fontSize": 30, "color": "#111"},
 "encoding": {"x": {"datum": 319.8, "type": "quantitative", "scale": {"domain": [83, 1000]}}, "y": {"datum": 322, "type": "quantitative", "scale": {"domain": [0, 369]}, "axis": null}, "text": {"value": "E"}}},
{"mark": {"type": "text", "align": "left", "baseline": "alphabetic", "fontSize": 26, "color": "#111"},
 "encoding": {"x": {"datum": 354.2, "type": "quantitative", "scale": {"domain": [83, 1000]}}, "y": {"datum": 342, "type": "quantitative", "scale": {"domain": [0, 369]}, "axis": null}, "text": {"value": "high"}}},
{"mark": {"type": "text", "align": "left", "baseline": "alphabetic", "fontSize": 25, "color": "#111"},
 "encoding": {"x": {"datum": 354.2, "type": "quantitative", "scale": {"domain": [83, 1000]}}, "y": {"datum": 310, "type": "quantitative", "scale": {"domain": [0, 369]}, "axis": null}, "text": {"value": "2"}}},
{"mark": {"type": "text", "align": "center", "baseline": "middle", "fontSize": 21, "fontWeight": "bold", "lineHeight": 23, "color": "#111"},
 "encoding": {"x": {"datum": 247.6, "type": "quantitative", "scale": {"domain": [83, 1000]}}, "y": {"datum": 205, "type": "quantitative", "scale": {"domain": [0, 369]}, "axis": null}, "text": {"value": ["Sintered at", "250 °C"]}}}
]},
{"layer": [
{"data": {"name": "ai"}, "mark": {"type": "line", "strokeWidth": 2.6},
 "encoding": {
  "x": {"field": "x", "type": "quantitative", "scale": {"domain": [900, 1000], "range": [258.7, 471.7]},
        "axis": {"orient": "bottom", "offset": -182, "title": "Raman shift (cm⁻¹)", "values": [900,912.5,925,937.5,950,962.5,975,987.5,1000], "format": "d", "labelExpr": "datum.value % 25 === 0 ? datum.label : ''", "tickSize": -4, "tickWidth": 1.2, "tickColor": "#333", "domainColor": "#333", "domainWidth": 1.5, "labelPadding": 13, "labelFontSize": 15, "labelColor": "#111", "labelFlush": false, "labelOverlap": false, "titleFontSize": 16, "titleFontWeight": "normal", "titleColor": "#111", "titlePadding": 5}},
  "y": {"field": "y", "type": "quantitative", "scale": {"domain": [0, 187], "range": [187, 0]}, "axis": null},
  "color": {"field": "s", "type": "nominal", "scale": {"domain": ["15'","30'","60'","120'","180'"], "range": ["#1c3a5e","#1f6c87","#2aa597","#d3cab3","#c7b59e"]}, "legend": null}}},
{"data": {"name": "ai"}, "transform": [{"aggregate": [{"op": "argmax", "field": "x", "as": "m"}], "groupby": ["s"]}],
 "mark": {"type": "text", "align": "right", "baseline": "middle", "dx": 46, "dy": 0, "fontSize": 21, "color": "#111"},
 "encoding": {"x": {"field": "m.x", "type": "quantitative", "scale": {"domain": [900, 1000], "range": [258.7, 471.7]}}, "y": {"field": "m.y", "type": "quantitative", "scale": {"domain": [0, 187], "range": [187, 0]}, "axis": null}, "text": {"field": "s"}}},
{"mark": {"type": "rule", "stroke": "#c8282d", "strokeWidth": 3, "strokeDash": [9, 6]},
 "encoding": {"x": {"datum": 937, "type": "quantitative", "scale": {"domain": [900, 1000], "range": [258.7, 471.7]}}, "y": {"datum": 14, "type": "quantitative", "scale": {"domain": [0, 187], "range": [187, 0]}, "axis": null}, "y2": {"datum": 182}}}
]}
]
},
{
"width": 513, "height": 369,
"data": {"values": [{}]},
"resolve": {"scale": {"x": "independent", "y": "independent"}, "axis": {"x": "independent", "y": "independent"}},
"layer": [
{"layer": [
{"data": {"name": "b"}, "mark": {"type": "line", "strokeWidth": 1.8},
 "encoding": {
  "x": {"field": "x", "type": "quantitative", "scale": {"domain": [82, 1000]},
        "axis": {"title": "Raman shift (cm⁻¹)", "values": [100,200,300,400,500,600,700,800,900,1000], "format": "d", "labelExpr": "datum.value % 200 === 0 ? datum.label : ''", "tickSize": -7, "tickWidth": 1.3, "tickColor": "#333", "domainColor": "#333", "domainWidth": 1.5, "labelPadding": 18, "labelFontSize": 18, "labelColor": "#111", "labelFlush": false, "labelOverlap": false, "titleFontSize": 23, "titleFontWeight": "normal", "titleColor": "#111", "titlePadding": 14}},
  "y": {"field": "y", "type": "quantitative", "scale": {"domain": [0, 369]}, "axis": null},
  "color": {"field": "s", "type": "nominal", "scale": {"domain": ["150°C","200°C","250°C","300°C"], "range": ["#2a6339","#b5c24b","#e5c440","#e97c3a"]}, "legend": null}}},
{"data": {"name": "b"}, "transform": [{"aggregate": [{"op": "argmax", "field": "x", "as": "m"}], "groupby": ["s"]}],
 "mark": {"type": "text", "align": "left", "baseline": "middle", "dx": 10, "dy": -5, "fontSize": 19, "color": "#111"},
 "encoding": {"x": {"field": "m.x", "type": "quantitative", "scale": {"domain": [82, 1000]}}, "y": {"field": "m.y", "type": "quantitative", "scale": {"domain": [0, 369]}, "axis": null}, "text": {"field": "s"}}},
{"mark": {"type": "rect", "fillOpacity": 0, "stroke": "#111", "strokeWidth": 2, "strokeDash": [7, 5]},
 "encoding": {"x": {"datum": 900, "type": "quantitative", "scale": {"domain": [82, 1000]}}, "x2": {"datum": 1000}, "y": {"datum": 109, "type": "quantitative", "scale": {"domain": [0, 369]}, "axis": null}, "y2": {"datum": 10}}},
{"mark": {"type": "rule", "stroke": "#111", "strokeWidth": 2, "strokeDash": [7, 6]},
 "encoding": {"x": {"datum": 896, "type": "quantitative", "scale": {"domain": [82, 1000]}}, "x2": {"datum": 971}, "y": {"datum": 196, "type": "quantitative", "scale": {"domain": [0, 369]}, "axis": null}, "y2": {"datum": 109}}},
{"mark": {"type": "text", "align": "left", "baseline": "alphabetic", "fontSize": 20, "color": "#111"},
 "encoding": {"x": {"datum": 33.7, "type": "quantitative", "scale": {"domain": [82, 1000]}}, "y": {"datum": 340, "type": "quantitative", "scale": {"domain": [0, 369]}, "axis": null}, "text": {"value": "b)"}}},
{"mark": {"type": "text", "align": "left", "baseline": "alphabetic", "fontSize": 30, "color": "#111"},
 "encoding": {"x": {"datum": 109.7, "type": "quantitative", "scale": {"domain": [82, 1000]}}, "y": {"datum": 282, "type": "quantitative", "scale": {"domain": [0, 369]}, "axis": null}, "text": {"value": "E"}}},
{"mark": {"type": "text", "align": "left", "baseline": "alphabetic", "fontSize": 26, "color": "#111"},
 "encoding": {"x": {"datum": 146.4, "type": "quantitative", "scale": {"domain": [82, 1000]}}, "y": {"datum": 305, "type": "quantitative", "scale": {"domain": [0, 369]}, "axis": null}, "text": {"value": "low"}}},
{"mark": {"type": "text", "align": "left", "baseline": "alphabetic", "fontSize": 25, "color": "#111"},
 "encoding": {"x": {"datum": 146.4, "type": "quantitative", "scale": {"domain": [82, 1000]}}, "y": {"datum": 279, "type": "quantitative", "scale": {"domain": [0, 369]}, "axis": null}, "text": {"value": "2"}}},
{"mark": {"type": "text", "align": "left", "baseline": "alphabetic", "fontSize": 30, "color": "#111"},
 "encoding": {"x": {"datum": 315.5, "type": "quantitative", "scale": {"domain": [82, 1000]}}, "y": {"datum": 324, "type": "quantitative", "scale": {"domain": [0, 369]}, "axis": null}, "text": {"value": "E"}}},
{"mark": {"type": "text", "align": "left", "baseline": "alphabetic", "fontSize": 26, "color": "#111"},
 "encoding": {"x": {"datum": 352.2, "type": "quantitative", "scale": {"domain": [82, 1000]}}, "y": {"datum": 342, "type": "quantitative", "scale": {"domain": [0, 369]}, "axis": null}, "text": {"value": "high"}}},
{"mark": {"type": "text", "align": "left", "baseline": "alphabetic", "fontSize": 25, "color": "#111"},
 "encoding": {"x": {"datum": 352.2, "type": "quantitative", "scale": {"domain": [82, 1000]}}, "y": {"datum": 310, "type": "quantitative", "scale": {"domain": [0, 369]}, "axis": null}, "text": {"value": "2"}}},
{"mark": {"type": "text", "align": "left", "baseline": "middle", "fontSize": 21, "fontWeight": "bold", "lineHeight": 23, "color": "#111"},
 "encoding": {"x": {"datum": 175, "type": "quantitative", "scale": {"domain": [82, 1000]}}, "y": {"datum": 207, "type": "quantitative", "scale": {"domain": [0, 369]}, "axis": null}, "text": {"value": ["Sintered", "150 min"]}}}
]},
{"layer": [
{"data": {"name": "bi"}, "mark": {"type": "line", "strokeWidth": 2.6},
 "encoding": {
  "x": {"field": "x", "type": "quantitative", "scale": {"domain": [900, 1000], "range": [253.7, 466]},
        "axis": {"orient": "bottom", "offset": -186, "title": "Raman shift (cm⁻¹)", "values": [900,912.5,925,937.5,950,962.5,975,987.5,1000], "format": "d", "labelExpr": "datum.value % 25 === 0 ? datum.label : ''", "tickSize": -4, "tickWidth": 1.2, "tickColor": "#333", "domainColor": "#333", "domainWidth": 1.5, "labelPadding": 16, "labelFontSize": 15, "labelColor": "#111", "labelFlush": false, "labelOverlap": false, "titleFontSize": 16, "titleFontWeight": "normal", "titleColor": "#111", "titlePadding": 13}},
  "y": {"field": "y", "type": "quantitative", "scale": {"domain": [0, 183], "range": [183, 0]}, "axis": null},
  "color": {"field": "s", "type": "nominal", "scale": {"domain": ["150°C","200°C","250°C","300°C"], "range": ["#2a6339","#b5c24b","#e5c440","#e97c3a"]}, "legend": null}}},
{"data": {"name": "bi"}, "transform": [{"aggregate": [{"op": "argmax", "field": "x", "as": "m"}], "groupby": ["s"]}],
 "mark": {"type": "text", "align": "left", "baseline": "middle", "dx": 9, "dy": -7, "fontSize": 22, "color": "#111"},
 "encoding": {"x": {"field": "m.x", "type": "quantitative", "scale": {"domain": [900, 1000], "range": [253.7, 466]}}, "y": {"field": "m.y", "type": "quantitative", "scale": {"domain": [0, 183], "range": [183, 0]}, "axis": null}, "text": {"field": "s"}}},
{"mark": {"type": "rule", "stroke": "#c8282d", "strokeWidth": 3, "strokeDash": [9, 6]},
 "encoding": {"x": {"datum": 937, "type": "quantitative", "scale": {"domain": [900, 1000], "range": [253.7, 466]}}, "y": {"datum": 6, "type": "quantitative", "scale": {"domain": [0, 183], "range": [183, 0]}, "axis": null}, "y2": {"datum": 153}}}
]}
]
}
]
}
